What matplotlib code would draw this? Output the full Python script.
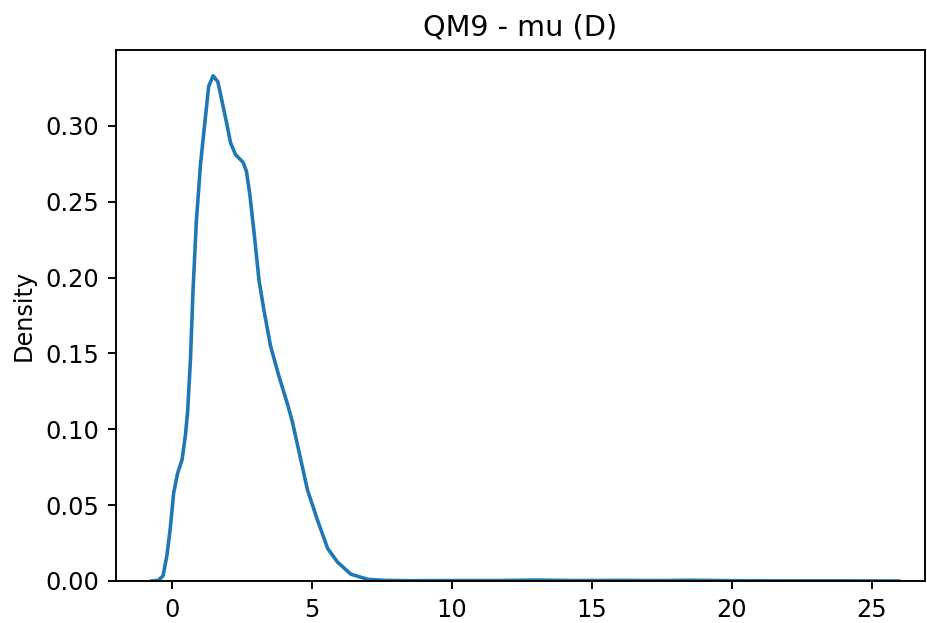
import matplotlib
matplotlib.use("Agg")
import matplotlib.pyplot as plt

title = "QM9 - mu (D)"
ylabel = "Density"

mu_x = [-0.73, -0.48, -0.32, -0.18, -0.06, 0.06, 0.20, 0.36, 0.48, 0.56, 0.66, 0.75,
        0.87, 1.02, 1.19, 1.31, 1.47, 1.64, 1.79, 1.95, 2.09, 2.27, 2.54, 2.66, 2.78,
        2.93, 3.11, 3.29, 3.52, 3.82, 4.12, 4.30, 4.60, 4.84, 5.20, 5.56, 5.91, 6.39,
        6.99, 7.6, 8.5, 10.0, 11.5, 13.0, 14.5, 16.0, 17.5, 18.5, 20.0, 22.0, 24.0, 25.96]
density = [0.0, 0.0005, 0.0034, 0.017, 0.035, 0.058, 0.071, 0.080, 0.096, 0.112, 0.146,
           0.191, 0.237, 0.275, 0.305, 0.326, 0.333, 0.329, 0.316, 0.302, 0.289, 0.281,
           0.276, 0.270, 0.255, 0.230, 0.198, 0.178, 0.155, 0.135, 0.117, 0.105, 0.080,
           0.060, 0.040, 0.0215, 0.0125, 0.0045, 0.0011, 0.0004, 0.0002, 0.0003, 0.0003,
           0.0006, 0.0003, 0.0004, 0.0003, 0.0005, 0.0002, 0.0001, 0.0001, 0.0]

xticks = [0, 5, 10, 15, 20, 25]
yticks = [0.00, 0.05, 0.10, 0.15, 0.20, 0.25, 0.30]

DPI = 172.5
fig = plt.figure(figsize=(927 / DPI, 623 / DPI), dpi=DPI)
ax = fig.add_axes([116 / 927, 1 - 581 / 623, (925 - 116) / 927, (581 - 50) / 623])
ax.plot(mu_x, density, color="#1f77b4", linewidth=1.5)
ax.set_xlim(-2.0, 26.9)
ax.set_ylim(0, 0.35)
ax.set_xticks(xticks)
ax.set_yticks(yticks)
ax.set_yticklabels([f"{v:.2f}" for v in yticks])
ax.set_ylabel(ylabel)
ax.set_title(title)
fig.savefig("out.png", dpi=DPI)
